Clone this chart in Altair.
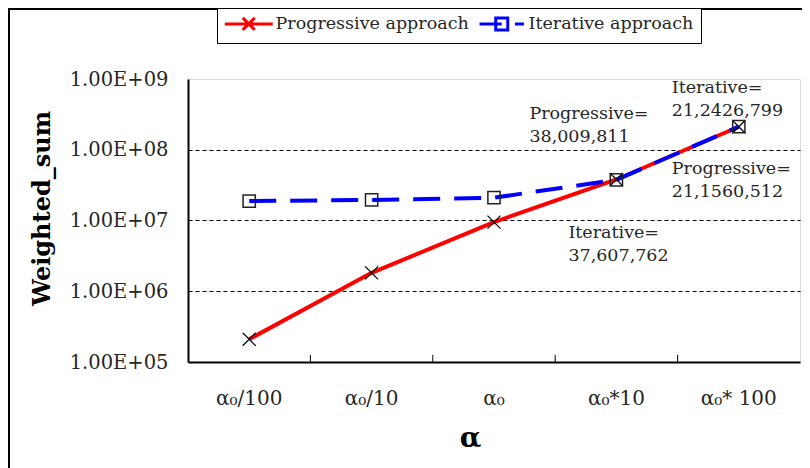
import altair as alt
import pandas as pd

categories = ["α₀/100", "α₀/10", "α₀", "α₀*10", "α₀* 100"]
progressive = [2.1e5, 1.82e6, 9.5e6, 38009811, 211560512]
iterative = [1.88e7, 1.95e7, 2.1e7, 37607762, 212426799]
series_names = ["Progressive approach", "Iterative approach"]
y_ticks = [1e5, 1e6, 1e7, 1e8, 1e9]

# annotations: (category, value, text)
ann_texts = [
    ("α₀*10", 38009811, "Progressive=\n38,009,811"),
    ("α₀* 100", 212426799, "Iterative=\n21,2426,799"),
    ("α₀* 100", 211560512, "Progressive=\n21,1560,512"),
    ("α₀*10", 37607762, "Iterative=\n37,607,762"),
]
ann_offsets = [(-87, -65), (-67, -39), (-67, 42), (-48, 53)]

FONT = "DejaVu Serif"
TXT = "#262626"

df_p = pd.DataFrame({"alpha": categories, "value": progressive, "series": series_names[0]})
df_i = pd.DataFrame({"alpha": categories, "value": iterative, "series": series_names[1]})
df = pd.concat([df_p, df_i], ignore_index=True)

xscale = alt.Scale(type="band", domain=categories, paddingInner=0, paddingOuter=0)
yscale = alt.Scale(type="log", domain=[1e5, 1e9], nice=False)

x_axis = alt.Axis(
    title="α", titleFont=FONT, titleFontSize=28, titleFontWeight="bold", titleColor="black",
    titlePadding=16, titleX=282,
    labelFont=FONT, labelFontSize=20, labelColor=TXT, labelPadding=36,
    labelAngle=0, labelAlign="center", bandPosition=0.5,
    ticks=False, domainColor="black", domainWidth=2, grid=False,
)
y_axis = alt.Axis(
    title="Weighted_sum", titleFont=FONT, titleFontSize=24, titleFontWeight="bold",
    titleColor="black", titlePadding=15, titleY=129,
    values=y_ticks,
    labelExpr="'1.00E+' + (round(log(datum.value)/LN10) < 10 ? '0' : '') + round(log(datum.value)/LN10)",
    labelFont=FONT, labelFontSize=19.5, labelColor=TXT, labelPadding=20,
    ticks=False, domainColor="black", domainWidth=2,
    grid=True, gridColor="black", gridDash=[4, 3], gridWidth=1,
    gridOpacity={"condition": {"test": "datum.value <= 100000 || datum.value >= 1000000000", "value": 0}, "value": 1},
)

X = alt.X("alpha:N", scale=xscale, axis=x_axis, sort=categories)
Y = alt.Y("value:Q", scale=yscale, axis=y_axis)
Xn = alt.X("alpha:N", scale=xscale, sort=categories)
Yn = alt.Y("value:Q", scale=yscale)

frame = alt.Chart(alt.Data(values=[{}])).mark_rect(
    fill=None, stroke="black", strokeWidth=2
).encode(
    x=alt.value(-179), x2=alt.value(1000), y=alt.value(-70), y2=alt.value(1000)
)

tick_df = pd.DataFrame({"alpha": categories[1:]})
ticks = alt.Chart(tick_df).mark_rule(color="black", strokeWidth=1).encode(
    x=alt.X("alpha:N", scale=xscale, sort=categories, bandPosition=0),
    y=alt.value(276), y2=alt.value(283),
)

line_p = alt.Chart(df_p).mark_line(color="#ff0000", strokeWidth=4).encode(x=X, y=Y)
line_i = alt.Chart(df_i).mark_line(color="#0000ff", strokeWidth=4, strokeDash=[27, 14]).encode(x=Xn, y=Yn)

pts_p = alt.Chart(df_p).mark_point(
    shape="M-1,-1L1,1M-1,1L1,-1", filled=False, color="black", strokeWidth=1.2, size=169, opacity=1
).encode(x=Xn, y=Yn)
pts_i = alt.Chart(df_i).mark_point(
    shape="square", filled=False, color="#222222", strokeWidth=1.5, size=150, opacity=1
).encode(x=Xn, y=Yn)

ann_layers = []
for (cat, val, txt), (dx, dy) in zip(ann_texts, ann_offsets):
    d = pd.DataFrame({"alpha": [cat], "value": [val], "label": [txt]})
    ann_layers.append(
        alt.Chart(d).mark_text(
            align="left", baseline="middle", dx=dx, dy=dy, font=FONT, fontSize=17.5,
            lineHeight=23, lineBreak="\n", color=TXT
        ).encode(x=Xn, y=Yn, text="label:N")
    )

legend_paths = [
    "M-4,0H4M-1,-1L1,1M-1,1L1,-1",
    "M-3.7,0H0M-1,-1H1V1H-1ZM2.2,0H3.7",
]
leg = alt.Legend(
    orient="none", legendX=29, legendY=-71, direction="horizontal", columns=2, title=None,
    labelFont=FONT, labelFontSize=17.5, labelColor=TXT, labelLimit=400,
    symbolSize=144, symbolStrokeWidth=3,
    symbolOffset=16, labelOffset=18, strokeColor="black", fillColor="white", padding=7,
    columnPadding=4,
)
legend_layer = alt.Chart(df).mark_point(filled=False, size=144, opacity=1, strokeWidth=3).encode(
    x=alt.value(-5000), y=alt.value(-5000),
    color=alt.Color("series:N", scale=alt.Scale(domain=series_names, range=["#ff0000", "#0000ff"]), legend=leg),
    shape=alt.Shape("series:N", scale=alt.Scale(domain=series_names, range=legend_paths), legend=leg),
)

chart = alt.layer(
    frame, ticks, line_p, line_i, pts_p, pts_i, *ann_layers, legend_layer
).properties(
    width=612, height=283,
    autosize=alt.AutoSizeParams(type="none"),
    padding={"left": 180, "top": 71, "right": 2, "bottom": 106},
    background="white",
).configure_view(stroke="#888888", strokeWidth=1).configure(font=FONT)

chart.save("out.html", embed_options={"renderer": "svg", "actions": False})
